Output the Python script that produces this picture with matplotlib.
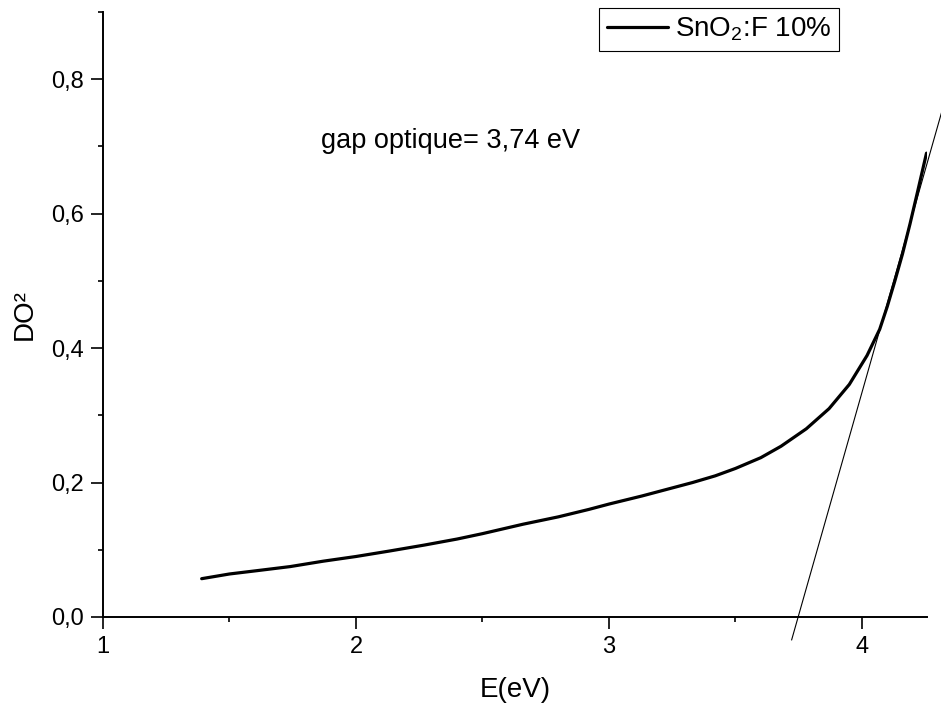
import matplotlib
matplotlib.use('Agg')
import matplotlib.pyplot as plt

plt.rcParams['font.family'] = ['Liberation Sans', 'DejaVu Sans']
plt.rcParams['mathtext.fontset'] = 'custom'
plt.rcParams['mathtext.rm'] = 'Liberation Sans'
plt.rcParams['mathtext.it'] = 'Liberation Sans:italic'

# absorbance squared vs photon energy
energy = [1.39, 1.50, 1.61, 1.74, 1.87, 2.00, 2.13, 2.27, 2.40, 2.50,
          2.66, 2.80, 2.92, 3.00, 3.13, 3.22, 3.33, 3.42, 3.50, 3.60,
          3.68, 3.78, 3.87, 3.95, 4.02, 4.07, 4.10, 4.13, 4.16, 4.19,
          4.22, 4.255]
do2 = [0.057, 0.064, 0.069, 0.075, 0.083, 0.090, 0.098, 0.107, 0.116, 0.124,
       0.138, 0.149, 0.160, 0.168, 0.180, 0.189, 0.200, 0.210, 0.221, 0.237,
       0.254, 0.280, 0.310, 0.346, 0.389, 0.428, 0.462, 0.500, 0.540, 0.585,
       0.633, 0.690]

# tangent used for the gap estimate
tangent_x = [3.722, 4.33]
tangent_y = [-0.034, 0.771]

fig = plt.figure(figsize=(9.41, 7.11), dpi=100)
ax = fig.add_axes([103/941, 1-617/711, (927-103)/941, (617-12)/711])

ax.plot(energy, do2, color='black', linewidth=2.3, solid_joinstyle='round',
        solid_capstyle='round', label='SnO$_2$:F 10%')
ax.plot(tangent_x, tangent_y, color='black', linewidth=0.8, clip_on=False)

ax.set_xlim(1, 4.257)
ax.set_ylim(0, 0.9)
ax.set_xticks([1, 2, 3, 4])
ax.set_xticks([1.5, 2.5, 3.5], minor=True)
ax.set_yticks([0.0, 0.2, 0.4, 0.6, 0.8])
ax.set_yticks([0.1, 0.3, 0.5, 0.7, 0.9], minor=True)
ax.set_yticklabels(['0,0', '0,2', '0,4', '0,6', '0,8'])

for s in ['top', 'right']:
    ax.spines[s].set_visible(False)
for s in ['left', 'bottom']:
    ax.spines[s].set_linewidth(1.4)

ax.tick_params(which='major', direction='out', length=8.5, width=1.2, labelsize=17, pad=5)
ax.tick_params(which='minor', direction='out', length=3.8, width=1.2)

ax.set_xlabel('E(eV)', fontsize=20, labelpad=14)
ax.set_ylabel('DO²', fontsize=20, labelpad=10)

ax.text(1.862, 0.697, 'gap optique= 3,74 eV', fontsize=19.5, va='baseline', ha='left')

leg = ax.legend(loc='upper left', bbox_to_anchor=(599/941, 1-8/711),
                bbox_transform=fig.transFigure, fontsize=20, frameon=True,
                fancybox=False, edgecolor='black', framealpha=1,
                borderpad=0.28, handlelength=2.2, handletextpad=0.25, borderaxespad=0)
leg.get_frame().set_linewidth(0.8)

fig.savefig('out.png', dpi=100)
